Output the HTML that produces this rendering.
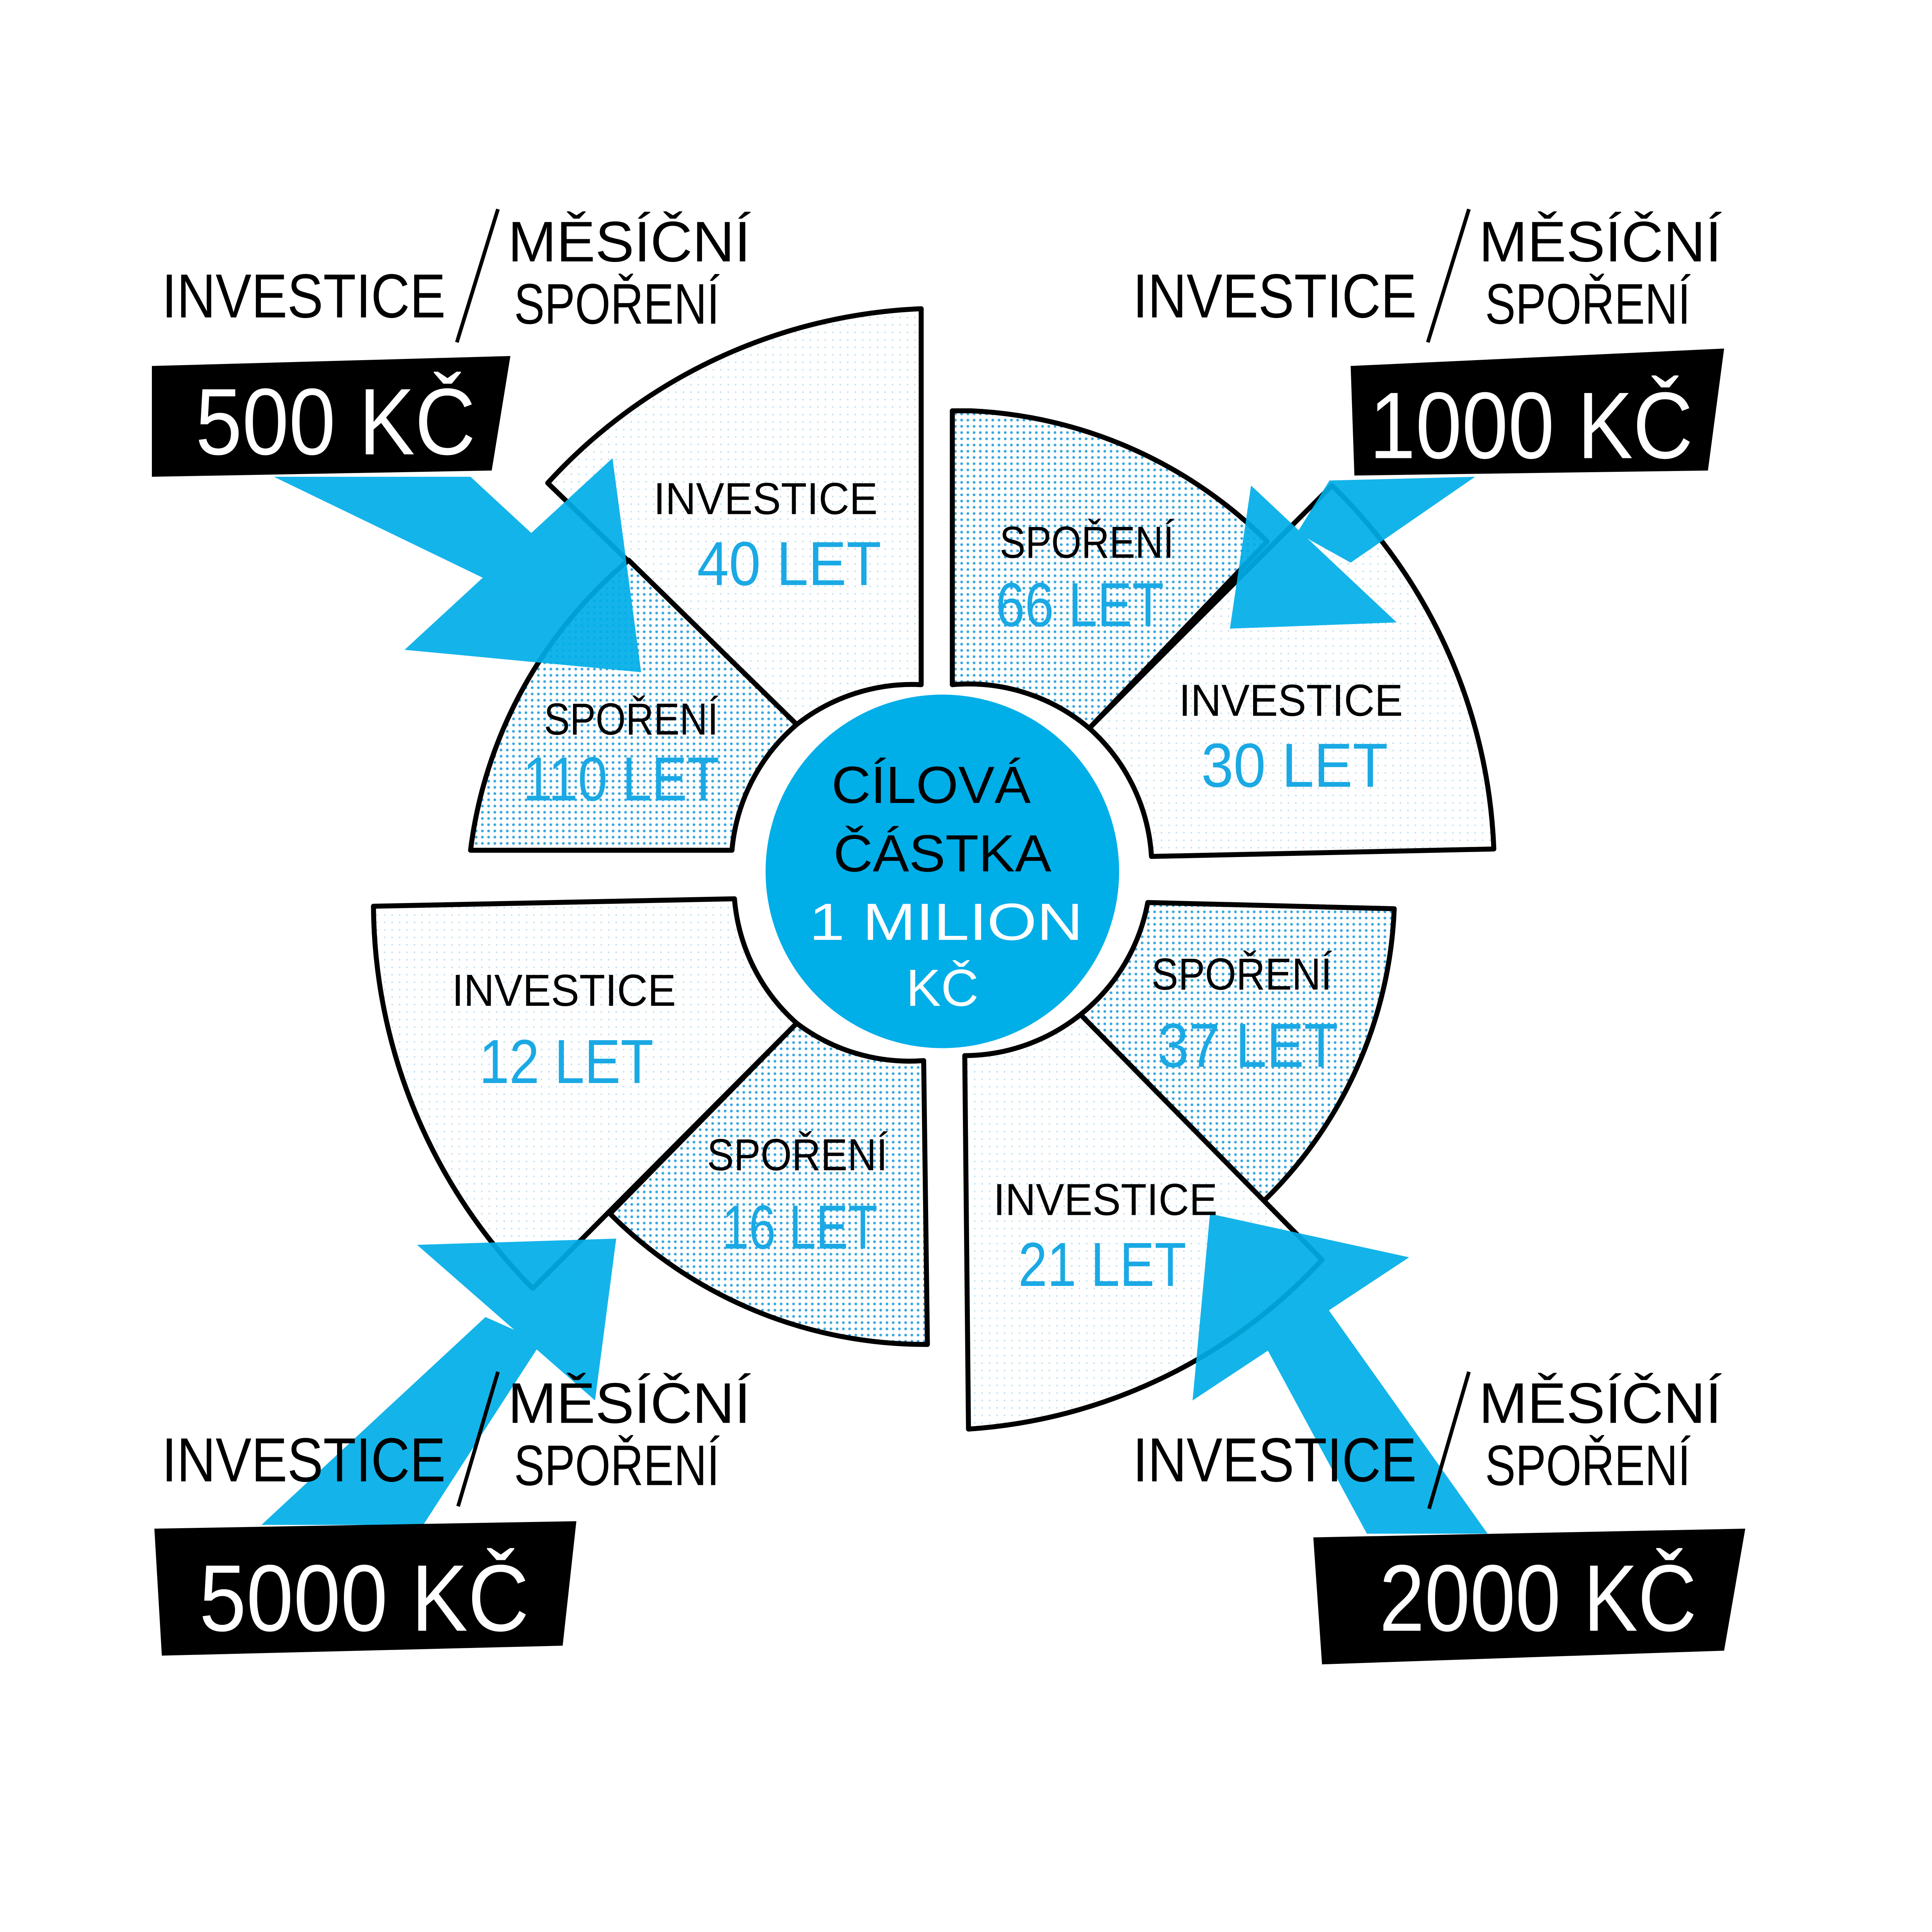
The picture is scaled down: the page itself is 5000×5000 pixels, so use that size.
<!DOCTYPE html>
<html><head><meta charset="utf-8"><style>
html,body{margin:0;padding:0;background:#fff;}
svg{display:block;}
text{font-family:"Liberation Sans",sans-serif;}
</style></head><body>
<svg width="5000" height="5000" viewBox="0 0 1552 1552" xmlns="http://www.w3.org/2000/svg">
<defs>
<pattern id="dots" width="5" height="5" patternUnits="userSpaceOnUse">
<rect width="5" height="5" fill="#fff"/><circle cx="2.5" cy="2.5" r="1.1" fill="#3aa8e0"/>
</pattern>
<pattern id="dots2" width="6" height="6" patternUnits="userSpaceOnUse">
<rect width="6" height="6" fill="#fff"/><circle cx="3" cy="3" r="0.6" fill="#b5dcf2"/>
</pattern>
</defs>
<rect width="1552" height="1552" fill="#fff"/>

<g stroke="#000" stroke-width="4" stroke-linejoin="round">
<path d="M740,248 L740,550 A150,150 0 0 0 640,582 L440,388 A430,430 0 0 1 740,248 Z" fill="url(#dots2)"/>
<path d="M505,450 L640,582 A150,150 0 0 0 588,683 L378,683 A362,362 0 0 1 505,450 Z" fill="url(#dots)"/>
<path d="M780,330 A360,360 0 0 1 1018,435 L875,585 A150,150 0 0 0 765,550 L765,330 Z" fill="url(#dots)"/>
<path d="M1070,390 A430,430 0 0 1 1200,682 L925,688 A150,150 0 0 0 875,585 Z" fill="url(#dots2)"/>
<path d="M300,728 L590,722 A150,150 0 0 0 640,822 L428,1035 A440,440 0 0 1 300,728 Z" fill="url(#dots2)"/>
<path d="M640,822 A150,150 0 0 0 742,852 L745,1080 A358,358 0 0 1 490,975 Z" fill="url(#dots)"/>
<path d="M922,725 L1120,730 A347,347 0 0 1 1015,965 L868,815 A150,150 0 0 0 922,725 Z" fill="url(#dots)"/>
<path d="M775,848 A150,150 0 0 0 868,815 L1062,1012 A425,425 0 0 1 778,1148 Z" fill="url(#dots2)"/>
</g>

<g fill="#00aee8" opacity="0.92">
<polygon points="220,383 378,383 445,445 400,470"/>
<polygon points="325,522 515,540 492,368"/>
<polygon points="1068,386 1185,383 1085,452 1042,428"/>
<polygon points="988,505 1122,500 1005,390"/>
<polygon points="210,1225 340,1225 435,1078 390,1058"/>
<polygon points="335,1000 495,995 478,1125"/>
<polygon points="1195,1232 1098,1232 1005,1060 1055,1035"/>
<polygon points="972,975 1132,1010 958,1125"/>
</g>

<circle cx="757" cy="700" r="142" fill="#00aee8"/>
<g font-size="42" text-anchor="middle" fill="#000">
<text x="748" y="645" textLength="160" lengthAdjust="spacingAndGlyphs">CÍLOVÁ</text>
<text x="757" y="700" textLength="175" lengthAdjust="spacingAndGlyphs">ČÁSTKA</text>
</g>
<g font-size="42" text-anchor="middle" fill="#fff">
<text x="760" y="755" textLength="220" lengthAdjust="spacingAndGlyphs">1 MILION</text>
<text x="757" y="808">KČ</text>
</g>

<g font-size="36" fill="#000">
<text x="525" y="413" textLength="180" lengthAdjust="spacingAndGlyphs">INVESTICE</text>
<text x="437" y="590" textLength="140" lengthAdjust="spacingAndGlyphs">SPOŘENÍ</text>
<text x="803" y="448" textLength="140" lengthAdjust="spacingAndGlyphs">SPOŘENÍ</text>
<text x="947" y="575" textLength="180" lengthAdjust="spacingAndGlyphs">INVESTICE</text>
<text x="363" y="808" textLength="180" lengthAdjust="spacingAndGlyphs">INVESTICE</text>
<text x="568" y="940" textLength="145" lengthAdjust="spacingAndGlyphs">SPOŘENÍ</text>
<text x="925" y="795" textLength="145" lengthAdjust="spacingAndGlyphs">SPOŘENÍ</text>
<text x="798" y="976" textLength="180" lengthAdjust="spacingAndGlyphs">INVESTICE</text>
</g>
<g font-size="50" fill="#1aa9e4">
<text x="560" y="470" textLength="148" lengthAdjust="spacingAndGlyphs">40 LET</text>
<text x="420" y="643" textLength="158" lengthAdjust="spacingAndGlyphs">110 LET</text>
<text x="800" y="503" textLength="135" lengthAdjust="spacingAndGlyphs">66 LET</text>
<text x="965" y="632" textLength="150" lengthAdjust="spacingAndGlyphs">30 LET</text>
<text x="385" y="870" textLength="140" lengthAdjust="spacingAndGlyphs">12 LET</text>
<text x="580" y="1003" textLength="125" lengthAdjust="spacingAndGlyphs">16 LET</text>
<text x="930" y="857" textLength="145" lengthAdjust="spacingAndGlyphs">37 LET</text>
<text x="818" y="1033" textLength="135" lengthAdjust="spacingAndGlyphs">21 LET</text>
</g>

<g fill="#000">
<text x="130" y="255" font-size="50" textLength="228" lengthAdjust="spacingAndGlyphs">INVESTICE</text>
<text x="408" y="210" font-size="46" textLength="195" lengthAdjust="spacingAndGlyphs">MĚSÍČNÍ</text>
<text x="413" y="260" font-size="46" textLength="165" lengthAdjust="spacingAndGlyphs">SPOŘENÍ</text>
<text x="910" y="255" font-size="50" textLength="228" lengthAdjust="spacingAndGlyphs">INVESTICE</text>
<text x="1188" y="210" font-size="46" textLength="195" lengthAdjust="spacingAndGlyphs">MĚSÍČNÍ</text>
<text x="1193" y="260" font-size="46" textLength="165" lengthAdjust="spacingAndGlyphs">SPOŘENÍ</text>
<text x="130" y="1190" font-size="50" textLength="228" lengthAdjust="spacingAndGlyphs">INVESTICE</text>
<text x="408" y="1143" font-size="46" textLength="195" lengthAdjust="spacingAndGlyphs">MĚSÍČNÍ</text>
<text x="413" y="1193" font-size="46" textLength="165" lengthAdjust="spacingAndGlyphs">SPOŘENÍ</text>
<text x="910" y="1190" font-size="50" textLength="228" lengthAdjust="spacingAndGlyphs">INVESTICE</text>
<text x="1188" y="1143" font-size="46" textLength="195" lengthAdjust="spacingAndGlyphs">MĚSÍČNÍ</text>
<text x="1193" y="1193" font-size="46" textLength="165" lengthAdjust="spacingAndGlyphs">SPOŘENÍ</text>
</g>
<g stroke="#000" stroke-width="3">
<line x1="400" y1="168" x2="367" y2="275"/>
<line x1="1180" y1="168" x2="1147" y2="275"/>
<line x1="400" y1="1102" x2="368" y2="1210"/>
<line x1="1180" y1="1102" x2="1148" y2="1212"/>
</g>

<g fill="#000">
<polygon points="122,294 410,286 395,378 122,383"/>
<polygon points="1085,294 1385,280 1372,378 1088,382"/>
<polygon points="124,1228 463,1222 452,1322 130,1330"/>
<polygon points="1055,1235 1402,1228 1385,1326 1062,1337"/>
</g>
<g fill="#fff" font-size="76">
<text x="157" y="365" textLength="225" lengthAdjust="spacingAndGlyphs">500 KČ</text>
<text x="1100" y="368" textLength="260" lengthAdjust="spacingAndGlyphs">1000 KČ</text>
<text x="160" y="1310" textLength="265" lengthAdjust="spacingAndGlyphs">5000 KČ</text>
<text x="1108" y="1310" textLength="255" lengthAdjust="spacingAndGlyphs">2000 KČ</text>
</g>
</svg>
</body></html>
